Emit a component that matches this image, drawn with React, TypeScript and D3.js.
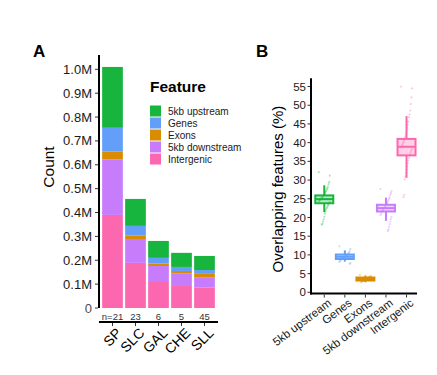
import React from "react";
import * as d3 from "d3";

const groups = ["SP", "SLC", "GAL", "CHE", "SLL"];
const groupN = ["n=21", "23", "6", "5", "45"];
const features = ["5kb upstream", "Genes", "Exons", "5kb downstream", "Intergenic"];
const featureColors = ["#17b53d", "#639ef8", "#d98c00", "#c77cfc", "#fc68b0"];
// stacked counts (millions)
const intergenic = [0.39, 0.189, 0.113, 0.092, 0.085];
const downstream = [0.233, 0.1, 0.063, 0.052, 0.044];
const exons = [0.032, 0.014, 0.011, 0.011, 0.014];
const genes = [0.1, 0.041, 0.023, 0.017, 0.016];
const upstream = [0.255, 0.113, 0.071, 0.059, 0.059];
const countTicks = [0, 0.1, 0.2, 0.3, 0.4, 0.5, 0.6, 0.7, 0.8, 0.9, 1.0];

// panel B box stats (%)
const boxLow = [21.4, 8.2, 2.7, 19.1, 30.6];
const boxQ1 = [23.8, 8.9, 3.15, 21.6, 36.6];
const boxMed = [24.9, 9.5, 3.55, 22.5, 38.9];
const boxQ3 = [25.9, 10.1, 3.95, 23.4, 41.0];
const boxHigh = [28.6, 11.2, 4.5, 25.3, 47.1];
const pctTicks = [0, 5, 10, 15, 20, 25, 30, 35, 40, 45, 50, 55];
const ptsUpstream = [32.1, 31.2, 29.5, 28.9, 28.2, 27.8, 27.5, 27.1, 26.8, 26.5, 26.2, 26.0, 25.7, 25.5, 25.3, 25.1, 24.9, 24.7, 24.5, 24.3, 24.1, 23.8, 23.5, 23.2, 22.9, 22.5, 22.1, 21.6, 21.0, 20.2, 19.5, 18.9, 18.3, 18.1];
const ptsGenes = [12.3, 11.6, 11.0, 10.6, 10.4, 10.2, 10.0, 9.9, 9.8, 9.7, 9.6, 9.5, 9.4, 9.3, 9.2, 9.0, 8.8, 8.6, 8.4, 8.1, 7.8, 7.6];
const ptsExons = [4.6, 4.4, 4.2, 4.1, 4.0, 3.9, 3.8, 3.7, 3.6, 3.6, 3.5, 3.4, 3.3, 3.2, 3.1, 3.0, 2.9, 2.7];
const ptsDownstream = [27.6, 27.0, 26.5, 26.0, 25.4, 25.0, 24.6, 24.2, 23.9, 23.6, 23.3, 23.0, 22.8, 22.5, 22.3, 22.0, 21.7, 21.4, 21.0, 20.6, 20.2, 19.6, 18.9, 18.2, 17.5, 16.8, 16.4];
const ptsIntergenic = [55.0, 54.5, 52.1, 50.3, 48.6, 47.5, 46.8, 45.6, 44.8, 43.9, 43.1, 42.4, 41.7, 41.2, 40.6, 40.2, 39.8, 39.4, 39.0, 38.7, 38.3, 37.9, 37.5, 37.0, 36.5, 35.9, 35.2, 34.5, 33.6, 32.8, 31.9, 31.0, 30.2, 26.0, 25.4];

const FONT = "'Liberation Sans', Arial, sans-serif";

export default function App() {
  // Panel A
  const xA = d3.scaleBand().domain(groups).range([101, 216]).paddingInner(0.1).paddingOuter(0.05);
  const yA = d3.scaleLinear().domain([0, 1.06]).range([308, 55]);
  const table = groups.map((g, i) => ({
    group: g,
    Intergenic: intergenic[i],
    "5kb downstream": downstream[i],
    Exons: exons[i],
    Genes: genes[i],
    "5kb upstream": upstream[i],
  }));
  const stackOrder = ["Intergenic", "5kb downstream", "Exons", "Genes", "5kb upstream"];
  const stacked = d3.stack<any>().keys(stackOrder)(table);
  const colorOf = (k: string) => featureColors[features.indexOf(k)];

  // Panel B
  const xB = d3.scaleBand().domain(features).range([314, 416.8]);
  const yB = d3.scaleLinear().domain([-0.4, 57.2]).range([293.8, 78.3]);
  const allPts = [ptsUpstream, ptsGenes, ptsExons, ptsDownstream, ptsIntergenic];
  const boxW = 18;

  return (
    <svg width={437} height={375} style={{ position: "absolute", left: 0, top: 0, fontFamily: FONT }}>
      <rect width={437} height={375} fill="#fff" />
      {/* Panel labels */}
      <text x={33} y={57} fontSize={17} fontWeight="bold">A</text>
      <text x={256} y={57} fontSize={17} fontWeight="bold">B</text>

      {/* Panel A bars */}
      {stacked.map((layer) => (
        <g key={layer.key} fill={colorOf(layer.key)}>
          {layer.map((d, i) => (
            <rect key={i} x={xA(groups[i])} width={xA.bandwidth()} y={yA(d[1])} height={yA(d[0]) - yA(d[1])} />
          ))}
        </g>
      ))}
      {/* Panel A y axis */}
      <line x1={99} x2={99} y1={55} y2={308} stroke="#000" strokeWidth={2} />
      {countTicks.map((t) => (
        <g key={t}>
          <line x1={95} x2={98} y1={yA(t)} y2={yA(t)} stroke="#333" strokeWidth={1} />
          <text x={92} y={yA(t)} dy="0.35em" textAnchor="end" fontSize={13} fill={t === 0 ? "#4d4d4d" : "#1a1a1a"}>
            {t === 0 ? "0" : t.toFixed(1) + "M"}
          </text>
        </g>
      ))}
      <text transform="translate(54,167) rotate(-90)" textAnchor="middle" fontSize={15.5} fill="#000">Count</text>
      {/* n labels */}
      {groups.map((g, i) => (
        <text key={g} x={xA(g)! + xA.bandwidth() / 2} y={316.5} dy="0.35em" textAnchor="middle" fontSize={9.5} fill="#333">
          {groupN[i]}
        </text>
      ))}
      {/* Panel A x axis */}
      <line x1={99} x2={218} y1={322} y2={322} stroke="#000" strokeWidth={2} />
      {groups.map((g) => {
        const cx = xA(g)! + xA.bandwidth() / 2;
        return (
          <g key={g}>
            <line x1={cx} x2={cx} y1={323} y2={326} stroke="#333" />
            <text transform={`translate(${cx + 3},${327}) rotate(-45)`} textAnchor="end" dy="0.7em" fontSize={14} fill="#000">
              {g}
            </text>
          </g>
        );
      })}

      {/* Legend */}
      <text x={150} y={92} fontSize={15.5} fontWeight="bold">Feature</text>
      {features.map((f, i) => (
        <g key={f}>
          <rect x={150} y={105.5 + i * 12} width={11} height={11} fill={featureColors[i]} />
          <text x={168} y={111 + i * 12} dy="0.35em" fontSize={10} fill="#1a1a1a">{f}</text>
        </g>
      ))}

      {/* Panel B points */}
      {allPts.map((pts, k) => {
        const cx = xB(features[k])! + xB.bandwidth() / 2;
        return (
          <g key={k} fill={featureColors[k]} fillOpacity={0.35}>
            {pts.map((v, j) => {
              const jit = ((((j * 37) % 19) / 18) - 0.5) * 11;
              return <circle key={j} cx={cx + jit} cy={yB(v)} r={1.1} />;
            })}
          </g>
        );
      })}
      {/* Panel B boxes */}
      {features.map((f, k) => {
        const cx = xB(f)! + xB.bandwidth() / 2;
        const c = featureColors[k];
        return (
          <g key={f}>
            <line x1={cx} x2={cx} y1={yB(boxHigh[k])} y2={yB(boxQ3[k])} stroke={c} strokeWidth={2} />
            <line x1={cx} x2={cx} y1={yB(boxQ1[k])} y2={yB(boxLow[k])} stroke={c} strokeWidth={2} />
            <rect x={cx - boxW / 2} y={yB(boxQ3[k])} width={boxW} height={yB(boxQ1[k]) - yB(boxQ3[k])}
              fill={c} fillOpacity={0.3} stroke={c} strokeWidth={2} />
            <line x1={cx - boxW / 2} x2={cx + boxW / 2} y1={yB(boxMed[k])} y2={yB(boxMed[k])} stroke={c} strokeWidth={2} />
          </g>
        );
      })}
      {/* Panel B axes */}
      <line x1={311} x2={311} y1={78.3} y2={294.5} stroke="#000" strokeWidth={2} />
      <line x1={310} x2={417} y1={293.6} y2={293.6} stroke="#000" strokeWidth={2} />
      {pctTicks.map((t) => (
        <g key={t}>
          <line x1={307.5} x2={310} y1={yB(t)} y2={yB(t)} stroke="#333" />
          <text x={306} y={yB(t)} dy="0.35em" textAnchor="end" fontSize={11.5} fill="#1a1a1a">{t}</text>
        </g>
      ))}
      <text transform="translate(283,189) rotate(-90)" textAnchor="middle" fontSize={15} fill="#000">
        Overlapping features (%)
      </text>
      {features.map((f) => {
        const cx = xB(f)! + xB.bandwidth() / 2;
        return (
          <g key={f}>
            <line x1={cx} x2={cx} y1={294.6} y2={297.5} stroke="#333" />
            <text transform={`translate(${cx + 3},${298}) rotate(-37)`} textAnchor="end" dy="0.7em" fontSize={11.5} fill="#1a1a1a">
              {f}
            </text>
          </g>
        );
      })}
    </svg>
  );
}
